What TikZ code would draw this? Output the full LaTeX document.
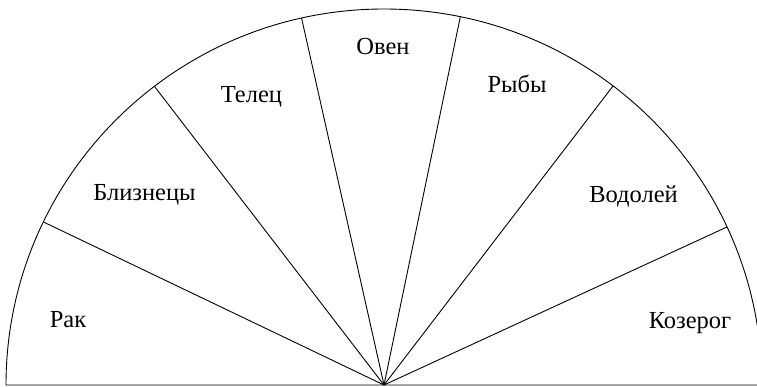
\documentclass[tikz,border=0pt]{standalone}
\usepackage{fontspec}
\setmainfont{Liberation Serif}
\usetikzlibrary{calc}
\begin{document}
\begin{tikzpicture}[x=1pt,y=1pt,
  spoke/.style={draw=black,line width=0.9pt},
  lbl/.style={anchor=base,inner sep=0pt,font=\fontsize{24.5}{28}\selectfont}]
\useasboundingbox (0,0) rectangle (757,-387);
\coordinate (O) at (384,-385);
\coordinate (L) at (6,-385);
\coordinate (R) at (757,-385);
\draw[line width=0.9pt] (R) -- (L) arc[start angle=180,end angle=0,x radius=378,y radius=376];
\foreach \a [count=\i] in {154.3,127.4,102.6,78.35,52.7,24.85}{
  \coordinate (P\i) at ($(O)+(\a:378 and 376)$);
  \draw[spoke] (O) -- (P\i);
}
\node[lbl] (rak) at (68,-327.5) {Рак};
\node[lbl] (bliz) at (144.5,-201) {Близнецы};
\node[lbl] (tel) at (251.5,-103) {Телец};
\node[lbl] (oven) at (383,-55) {Овен};
\node[lbl] (ryby) at (517,-93) {Рыбы};
\node[lbl] (vod) at (633.5,-203) {Водолей};
\node[lbl] (koz) at (690,-328) {Козерог};
\end{tikzpicture}
\end{document}
